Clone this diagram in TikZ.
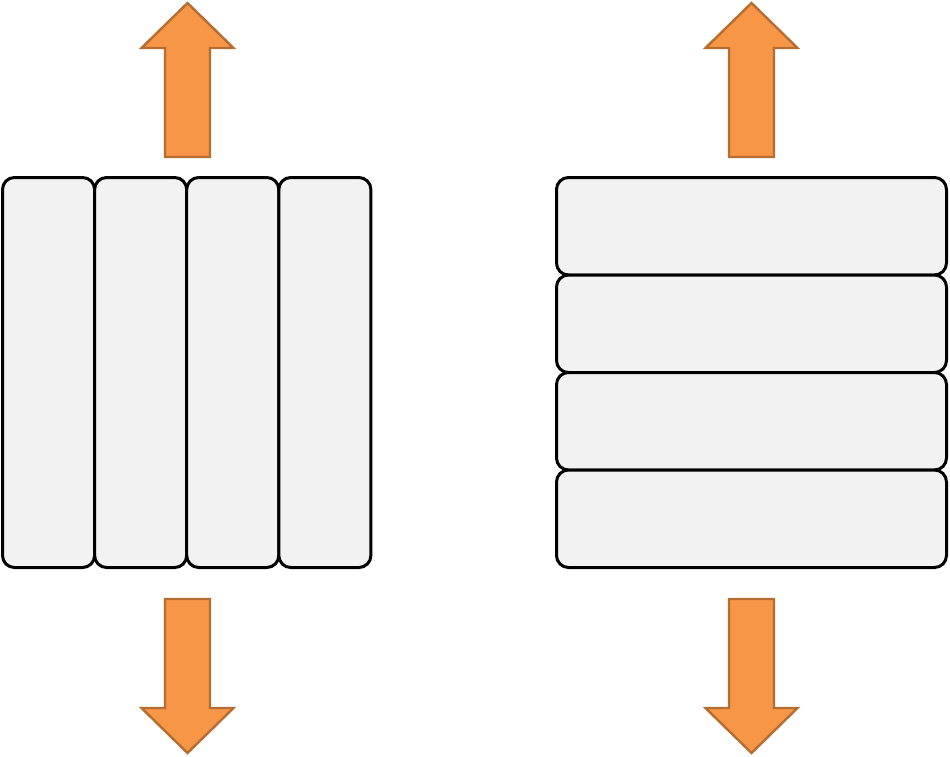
\documentclass[tikz,border=0pt]{standalone}
\definecolor{boxfill}{HTML}{F2F2F2}
\definecolor{arrfill}{HTML}{F79646}
\definecolor{arrline}{HTML}{B66D31}
\begin{document}
\begin{tikzpicture}[x=1pt,y=-1pt,
  cell/.style={draw=black,fill=boxfill,line width=3pt,rounded corners=12pt},
  bigarrow/.style={draw=arrline,fill=arrfill,line width=2.4pt,line join=miter}]
\useasboundingbox (0,0) rectangle (950,756);
% left stack (vertical strips)
\foreach \i in {0,1,2,3}{
  \draw[cell] ({2.5+\i*92.1},177.5) rectangle ({2.5+(\i+1)*92.1},567.5);
}
% right stack (horizontal strips)
\foreach \i in {0,1,2,3}{
  \draw[cell] (556.5,{177.5+\i*97.5}) rectangle (946.5,{177.5+(\i+1)*97.5});
}
% arrows
\foreach \c in {187.5,751.5}{
  \draw[bigarrow] ({\c-22.5},157) -- ({\c-22.5},48) -- ({\c-46},48) -- (\c,3) -- ({\c+46},48) -- ({\c+22.5},48) -- ({\c+22.5},157) -- cycle;
  \draw[bigarrow] ({\c-22.5},599) -- ({\c-22.5},708) -- ({\c-46},708) -- (\c,753) -- ({\c+46},708) -- ({\c+22.5},708) -- ({\c+22.5},599) -- cycle;
}
\end{tikzpicture}
\end{document}
